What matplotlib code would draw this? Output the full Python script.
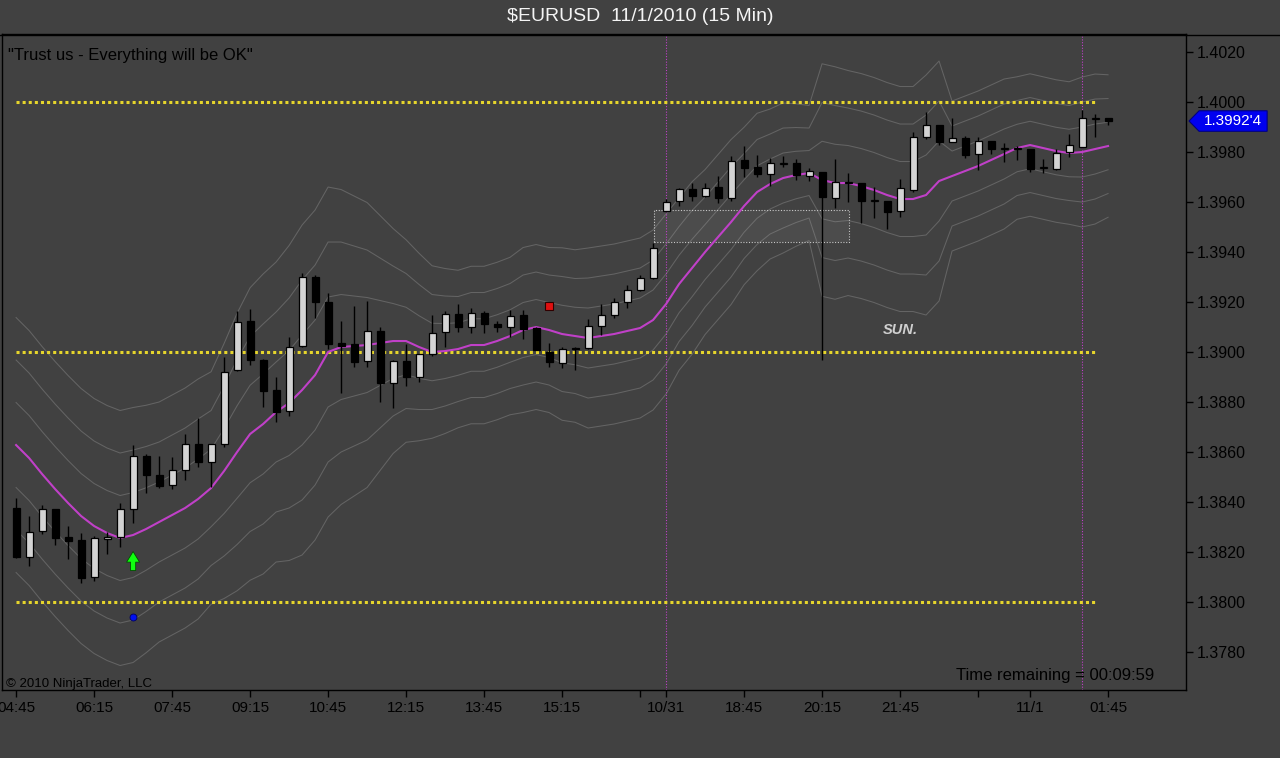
import matplotlib
matplotlib.use("Agg")
import matplotlib.pyplot as plt
import numpy as np
from matplotlib.patches import Rectangle, Polygon
from matplotlib.lines import Line2D
from matplotlib.transforms import blended_transform_factory

plt.rcParams["font.family"] = ["Liberation Sans", "DejaVu Sans"]

# 15 min bars, Fri 10/29 04:45 .. Mon 11/1 01:45 (weekend gap after bar 49)
opens = [1.38376, 1.3818, 1.38284, 1.38372, 1.3826, 1.38248, 1.3810, 1.38252, 1.3826, 1.38372,
         1.38584, 1.38508, 1.38468, 1.38528, 1.38632, 1.3856, 1.38632, 1.38928, 1.39124, 1.38968,
         1.38848, 1.38764, 1.39024, 1.3930, 1.3920, 1.39036, 1.39032, 1.38964, 1.39084, 1.38876,
         1.38964, 1.3890, 1.38992, 1.3908, 1.39152, 1.3910, 1.39156, 1.39112, 1.3910, 1.39148,
         1.39096, 1.3900, 1.38956, 1.39016, 1.39016, 1.39104, 1.39148, 1.3920, 1.39248, 1.39296,
         1.39564, 1.39604, 1.39652, 1.39624, 1.3966, 1.39616, 1.39768, 1.3974, 1.39712, 1.39752,
         1.39756, 1.39704, 1.3972, 1.39616, 1.39676, 1.39676, 1.39604, 1.39604, 1.39564, 1.39648,
         1.3986, 1.39908, 1.3984, 1.39856, 1.39792, 1.39844, 1.39812, 1.39812, 1.39812, 1.39736,
         1.39732, 1.3980, 1.3982, 1.39932, 1.39936]
highs = [1.38416, 1.38344, 1.38388, 1.38372, 1.38304, 1.38276, 1.38264, 1.3828, 1.38396, 1.38628,
         1.38592, 1.38584, 1.3858, 1.38672, 1.38736, 1.38632, 1.3898, 1.39164, 1.39172, 1.38972,
         1.3890, 1.3906, 1.39316, 1.39308, 1.39236, 1.39124, 1.39184, 1.39204, 1.3910, 1.38968,
         1.39032, 1.38992, 1.39148, 1.39164, 1.39192, 1.39176, 1.39164, 1.39124, 1.39168, 1.39168,
         1.3910, 1.39036, 1.3902, 1.3902, 1.39132, 1.39192, 1.39216, 1.39268, 1.39308, 1.39436,
         1.39612, 1.39656, 1.39676, 1.39676, 1.39704, 1.39784, 1.39824, 1.39788, 1.39776, 1.39784,
         1.39772, 1.39736, 1.3972, 1.39772, 1.39716, 1.39676, 1.3966, 1.39604, 1.39692, 1.3988,
         1.3996, 1.39908, 1.39936, 1.39864, 1.3986, 1.39844, 1.39836, 1.39824, 1.39812, 1.39772,
         1.39812, 1.39872, 1.39968, 1.39952, 1.39936]
lows = [1.38176, 1.38144, 1.38272, 1.38228, 1.38172, 1.38076, 1.38084, 1.38192, 1.3822, 1.38316,
        1.38436, 1.38456, 1.38452, 1.38488, 1.3854, 1.3846, 1.3862, 1.38924, 1.38948, 1.3878,
        1.3872, 1.38744, 1.3902, 1.39136, 1.39012, 1.38836, 1.3894, 1.3894, 1.3880, 1.38776,
        1.38864, 1.3888, 1.38984, 1.3902, 1.3908, 1.39076, 1.39076, 1.3908, 1.3906, 1.39052,
        1.39008, 1.3894, 1.38936, 1.38928, 1.39012, 1.39068, 1.39136, 1.39176, 1.39244, 1.39292,
        1.3956, 1.39584, 1.39604, 1.3962, 1.39596, 1.39604, 1.3970, 1.3970, 1.39664, 1.3974,
        1.39688, 1.39684, 1.38968, 1.39576, 1.3960, 1.39516, 1.39536, 1.39492, 1.3954, 1.3964,
        1.39852, 1.39828, 1.3984, 1.39776, 1.39728, 1.39792, 1.3976, 1.39768, 1.3972, 1.39716,
        1.39728, 1.3978, 1.39816, 1.3986, 1.39908]
closes = [1.3818, 1.3828, 1.38372, 1.38256, 1.38244, 1.38096, 1.38256, 1.3826, 1.38372, 1.38584,
          1.38508, 1.38464, 1.38528, 1.38632, 1.3856, 1.38632, 1.3892, 1.3912, 1.38968, 1.38844,
          1.3876, 1.3902, 1.3930, 1.3920, 1.39032, 1.39024, 1.3896, 1.39084, 1.38876, 1.38964,
          1.3890, 1.38992, 1.39076, 1.39152, 1.3910, 1.39156, 1.39112, 1.3910, 1.39144, 1.39092,
          1.39008, 1.3896, 1.39012, 1.39012, 1.39104, 1.39148, 1.3920, 1.39248, 1.39296, 1.39416,
          1.3960, 1.39652, 1.39624, 1.39656, 1.39616, 1.39764, 1.39736, 1.39712, 1.39756, 1.39756,
          1.39708, 1.39724, 1.3962, 1.3968, 1.39676, 1.39604, 1.39604, 1.3956, 1.39656, 1.3986,
          1.39908, 1.3984, 1.39856, 1.39788, 1.39844, 1.39812, 1.39812, 1.39812, 1.39732, 1.39736,
          1.39796, 1.39828, 1.39936, 1.39932, 1.39924]

# magenta moving average, read bar by bar
ma = [1.38628, 1.38576, 1.38512, 1.38452, 1.38396, 1.38344, 1.38304, 1.38276, 1.38256, 1.38268,
      1.38292, 1.3832, 1.38348, 1.38376, 1.38412, 1.38456, 1.38524, 1.3860, 1.38672, 1.38712,
      1.3876, 1.38796, 1.38848, 1.38908, 1.3900, 1.3902, 1.39024, 1.39028, 1.39036, 1.39044,
      1.39044, 1.3902, 1.3900, 1.39004, 1.39012, 1.39028, 1.39028, 1.39044, 1.39064, 1.39088,
      1.3910, 1.39088, 1.39072, 1.39064, 1.39056, 1.39064, 1.39072, 1.39084, 1.39096, 1.39128,
      1.39192, 1.39272, 1.39336, 1.3940, 1.3946, 1.3952, 1.39584, 1.3964, 1.39672, 1.39696,
      1.39708, 1.39716, 1.39688, 1.39676, 1.39676, 1.39664, 1.39648, 1.39628, 1.39612, 1.39612,
      1.39628, 1.39684, 1.39704, 1.39724, 1.39744, 1.39768, 1.39792, 1.39816, 1.39828, 1.39816,
      1.39804, 1.39796, 1.3980, 1.39812, 1.39824]

# channel half width (pips) of the grey bands, bands sit at ma +/- 1, 2, 3 widths
band_w = [17, 17, 17, 17, 17, 17, 17, 17, 17, 17,
          16.5, 16, 16, 16, 16, 15.5, 17, 18.5, 19.5, 20,
          20, 21, 22, 22, 22, 21, 20, 19, 17, 15,
          13.5, 12.5, 11.5, 11, 10.5, 10.5, 10.5, 10.5, 10.5, 11,
          11, 11, 11.5, 11.5, 12, 12, 12, 12, 12, 12,
          12, 11.5, 11.5, 11, 11, 11, 10.5, 10.5, 10, 10,
          9.5, 9, 15.5, 15.5, 15, 15, 15, 15, 15, 15,
          16, 16, 10, 10, 10, 10, 10, 9.5, 9.5, 9.5,
          9.5, 9.5, 10, 10, 9.5]

tick_pos = [0, 6, 12, 18, 24, 30, 36, 42, 48, 50, 56, 62, 68, 74, 78, 84]
tick_labels = ["04:45", "06:15", "07:45", "09:15", "10:45", "12:15", "13:45", "15:15", "",
               "10/31", "18:45", "20:15", "21:45", "", "11/1", "01:45"]
price_ticks = [1.3780, 1.3800, 1.3820, 1.3840, 1.3860, 1.3880, 1.3900,
               1.3920, 1.3940, 1.3960, 1.3980, 1.4000, 1.4020]
levels = [1.4000, 1.3900, 1.3800]
session_bars = [50, 82]

BG = "#414141"

fig = plt.figure(figsize=(12.8, 7.58), dpi=100, facecolor=BG)
ax = fig.add_axes([0.0016, 0.0897, 0.925, 0.8654], facecolor=BG)
fig.add_artist(Line2D([0, 1], [1 - 34.5 / 758] * 2, color="black", lw=1))

x = np.arange(len(closes))
o = np.array(opens)
h = np.array(highs)
l = np.array(lows)
c = np.array(closes)
mid = np.array(ma)
w = np.array(band_w) / 10000

for k in (1, 2, 3):
    ax.plot(x, mid + k * w, color="#646464", lw=0.75, zorder=1)
    ax.plot(x, mid - k * w, color="#646464", lw=0.75, zorder=1)

ax.add_patch(Rectangle((49.05, 1.3944), 15.0, 0.00128, facecolor="#ffffff", alpha=0.06,
                       zorder=1.5))
ax.add_patch(Rectangle((49.05, 1.3944), 15.0, 0.00128, fill=False, edgecolor="#c8c8c8",
                       lw=0.8, ls=(0, (1, 1.5)), zorder=1.6))

for b in session_bars:
    ax.axvline(b, color="#c040c8", lw=0.8, ls=(0, (1, 1.5)), zorder=1.7)

for lv in levels:
    ax.hlines(lv, 0, 83, color="#e6d52c", lw=2.2, ls=(0, (1, 1)), zorder=2)

ax.plot(x, mid, color="#c040c8", lw=1.5, zorder=2.5)

# candles
ax.vlines(x, l, h, color="black", lw=1.0, zorder=3)
up = c >= o
body_low = np.minimum(o, c)
body_h = np.maximum(np.abs(c - o), 0.00003)
ax.bar(x, body_h, 0.54, bottom=body_low, color=np.where(up, "#d3d3d3", "#000000"),
       edgecolor="black", lw=0.9, zorder=4)

# markers
ax.annotate("", xy=(9, 1.38202), xytext=(9, 1.38126),
            arrowprops=dict(arrowstyle="simple,head_width=0.55,head_length=0.45,tail_width=0.22",
                            fc="#10ff10", ec="#005000", lw=0.6, mutation_scale=17,
                            shrinkA=0, shrinkB=0), zorder=5)
ax.plot(9, 1.3794, "o", ms=5, color="#0010f0", mec="#000060", mew=0.6, zorder=5)
ax.plot(41, 1.39184, "s", ms=5.5, color="#e01010", mec="#300000", mew=0.8, zorder=5)

ax.set_xlim(-1.08, 90)
ax.set_ylim(1.37648, 1.40272)

ax.yaxis.tick_right()
ax.set_yticks(price_ticks)
ax.set_yticklabels([f"{p:.4f}" for p in price_ticks])
ax.set_xticks(tick_pos)
ax.set_xticklabels(tick_labels)
ax.tick_params(axis="both", colors="black", labelcolor="black", labelsize=11,
               direction="out", length=5, width=1)
ax.tick_params(axis="y", pad=3, labelsize=11.5)
ax.tick_params(axis="x", pad=3)
for s in ax.spines.values():
    s.set_color("black")
    s.set_linewidth(1)

# last price flag
last = closes[-1]
pips = last * 10000
last_txt = f"{int(pips) / 10000:.4f}'{int(round((pips - int(pips)) * 10))}"
tr = blended_transform_factory(ax.transAxes, ax.transData)
hh = 0.00041
ax.add_patch(Polygon([(1.0025, last), (1.011, last + hh), (1.0685, last + hh),
                      (1.0685, last - hh), (1.011, last - hh)], closed=True,
                     facecolor="#0000f0", edgecolor="#000080", lw=0.8,
                     transform=tr, clip_on=False, zorder=6))
ax.text(1.0395, last, last_txt, transform=tr, color="white", fontsize=11,
        ha="center", va="center", clip_on=False, zorder=7)

fig.text(0.5, 0.978, "$EURUSD  11/1/2010 (15 Min)", ha="center", va="center",
         color="#f4f4f4", fontsize=14)
ax.text(0.005, 0.979, '"Trust us - Everything will be OK"', transform=ax.transAxes,
        ha="left", va="top", color="black", fontsize=12)
ax.text(0.003, 0.0, "\u00a9 2010 NinjaTrader, LLC", transform=ax.transAxes,
        ha="left", va="bottom", color="black", fontsize=9.5)
ax.text(0.973, 0.01, "Time remaining = 00:09:59", transform=ax.transAxes,
        ha="right", va="bottom", color="black", fontsize=12)
ax.text(68, 1.39088, "SUN.", ha="center", va="center", color="#d0d0d0",
        fontsize=10.5, fontweight="bold", fontstyle="italic")

fig.savefig("out.png", dpi=100, facecolor=BG)
